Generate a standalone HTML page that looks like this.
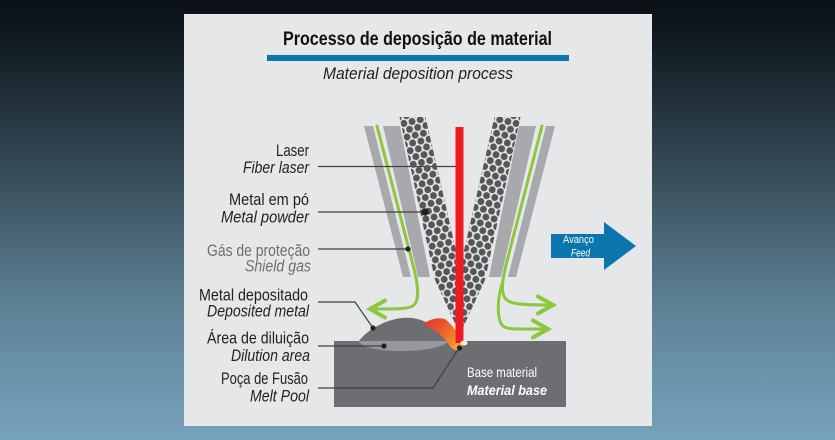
<!DOCTYPE html>
<html><head><meta charset="utf-8"><style>
html,body{margin:0;padding:0;width:835px;height:440px;overflow:hidden}
body{background:linear-gradient(to bottom,#0a1116 0%,#0e171d 7%,#24343e 25%,#3f5664 45%,#587a8c 65%,#6890a7 82%,#77a2bb 100%)}
svg{display:block}
</style></head><body>
<svg width="835" height="440" viewBox="0 0 835 440" xmlns="http://www.w3.org/2000/svg" font-family="'Liberation Sans', sans-serif">
<defs>
<pattern id="dl" patternUnits="userSpaceOnUse" x="407.5" y="118" width="8.4" height="14" patternTransform="rotate(-13 412 120)">
<circle cx="4.2" cy="3.5" r="3.45" fill="#555658"/>
<circle cx="0" cy="10.5" r="3.45" fill="#555658"/>
<circle cx="8.4" cy="10.5" r="3.45" fill="#555658"/>
</pattern>
<pattern id="dr" patternUnits="userSpaceOnUse" x="504.1" y="118" width="8.4" height="14" patternTransform="rotate(13 508 120)">
<circle cx="4.2" cy="3.5" r="3.45" fill="#555658"/>
<circle cx="0" cy="10.5" r="3.45" fill="#555658"/>
<circle cx="8.4" cy="10.5" r="3.45" fill="#555658"/>
</pattern>
<linearGradient id="fl" gradientUnits="userSpaceOnUse" x1="425" y1="321" x2="461" y2="349">
<stop offset="0" stop-color="#e23b2e"/>
<stop offset="0.35" stop-color="#ec542e"/>
<stop offset="0.7" stop-color="#f4812b"/>
<stop offset="1" stop-color="#fcb040"/>
</linearGradient>
</defs>

<!-- panel -->
<rect x="184" y="14" width="468" height="412" fill="#e6e7e8"/>

<!-- title -->
<text x="283" y="45" font-size="19" font-weight="bold" fill="#111" textLength="269" lengthAdjust="spacingAndGlyphs">Processo de deposição de material</text>
<rect x="267" y="55" width="302" height="6" fill="#0b77b0"/>
<text x="323" y="79" font-size="17" font-style="italic" fill="#222" textLength="190" lengthAdjust="spacingAndGlyphs">Material deposition process</text>

<!-- base material -->
<rect x="334" y="341" width="232" height="66" fill="#6d6e71"/>
<path d="M358,342 C370,326 394,316 412,318 C428,320 440,330 448,342 Z" fill="#6d6e71"/>
<path d="M358,341 Q366,351 400,351 Q434,351 447,343 L447,341 Z" fill="#97989b"/>

<!-- nozzle strips -->
<polygon points="364,126 373,126 411,277 403,277" fill="#a7a9ac"/>
<polygon points="383,126 400,126 430,277 418,277" fill="#a7a9ac"/>
<polygon points="555,126 546,126 508,277 516,277" fill="#a7a9ac"/>
<polygon points="536,126 519,126 489,277 501,277" fill="#a7a9ac"/>

<!-- green shield gas -->
<g fill="none" stroke="#8dc63f" stroke-width="3" stroke-linecap="round" stroke-linejoin="miter">
<path d="M377,126 L413,265 C418,284 420,299 414,305 C410,309 400,309 373,309"/>
<polyline points="385,300.5 370,309 385,317.5" stroke-width="4"/>
<path d="M542,126 L506,265 C502,282 501,292 505,298 C509,304 520,305 550,305"/>
<polyline points="538,296.5 553,305 538,313.5" stroke-width="4"/>
<path d="M502,284 C497,300 497,318 502,325 C506,330 515,329 545,329"/>
<polyline points="533,320.5 548,329 533,337.5" stroke-width="4"/>
</g>

<!-- leader lines -->
<g fill="none" stroke="#414042" stroke-width="1.2">
<line x1="318" y1="166.5" x2="456" y2="166.5"/>
<line x1="318" y1="212" x2="425" y2="212"/>
<line x1="318" y1="249" x2="408" y2="249"/>
<polyline points="318,302 355,302 373,328"/>
<line x1="318" y1="346" x2="384" y2="346"/>
<polyline points="318,388 433,388 459,348"/>
</g>

<!-- powder -->
<polygon points="399.5,117 425.5,117 460,268 460,334 435,280" fill="url(#dl)"/>
<polygon points="494.5,117 520.5,117 485,280 460,334 460,268" fill="url(#dr)"/>

<!-- flame / melt pool -->
<path d="M423,324 C430,319 438,317 445,319 C452,324 458,334 463,341 L462,348 C458,352 452,350 449,345 C444,336 434,329 423,324 Z" fill="url(#fl)"/>

<!-- laser -->
<rect x="455.5" y="127" width="8" height="216" fill="#ed1c24"/>
<ellipse cx="464" cy="343" rx="3.5" ry="2.5" fill="#f4efcf"/>

<!-- leader dots -->
<g fill="#231f20">
<circle cx="425" cy="212" r="3.6"/>
<circle cx="408" cy="249" r="2.6"/>
<circle cx="373" cy="328" r="2.6"/>
<circle cx="384" cy="346" r="2.6"/>
<circle cx="459.5" cy="348" r="2.6"/>
</g>

<!-- labels -->
<g font-size="17" fill="#231f20">
<text x="276" y="156" textLength="33" lengthAdjust="spacingAndGlyphs">Laser</text>
<text x="243" y="173" font-style="italic" textLength="66" lengthAdjust="spacingAndGlyphs">Fiber laser</text>
<text x="229" y="205" textLength="80" lengthAdjust="spacingAndGlyphs">Metal em pó</text>
<text x="221" y="222.5" font-style="italic" textLength="88" lengthAdjust="spacingAndGlyphs">Metal powder</text>
<text x="207" y="256" fill="#6d6e71" textLength="103" lengthAdjust="spacingAndGlyphs">Gás de proteção</text>
<text x="245" y="271.5" fill="#6d6e71" font-style="italic" textLength="66" lengthAdjust="spacingAndGlyphs">Shield gas</text>
<text x="199" y="300.5" textLength="109" lengthAdjust="spacingAndGlyphs">Metal depositado</text>
<text x="207" y="316.5" font-style="italic" textLength="102" lengthAdjust="spacingAndGlyphs">Deposited metal</text>
<text x="207" y="343.5" textLength="102" lengthAdjust="spacingAndGlyphs">Área de diluição</text>
<text x="231" y="361" font-style="italic" textLength="79" lengthAdjust="spacingAndGlyphs">Dilution area</text>
<text x="221" y="384" textLength="87" lengthAdjust="spacingAndGlyphs">Poça de Fusão</text>
<text x="250" y="401.5" font-style="italic" textLength="59" lengthAdjust="spacingAndGlyphs">Melt Pool</text>
</g>

<!-- base text -->
<text x="467" y="377" font-size="14" fill="#ffffff" textLength="70" lengthAdjust="spacingAndGlyphs">Base material</text>
<text x="467" y="395" font-size="14" font-weight="bold" font-style="italic" fill="#ffffff" textLength="80" lengthAdjust="spacingAndGlyphs">Material base</text>

<!-- feed arrow -->
<polygon points="551,234 604,234 604,222 636,246 604,270 604,258 551,258" fill="#0b76ad"/>
<text x="563" y="243" font-size="11" fill="#ffffff" textLength="31" lengthAdjust="spacingAndGlyphs">Avanço</text>
<text x="571" y="256.5" font-size="11" font-style="italic" fill="#ffffff" textLength="19" lengthAdjust="spacingAndGlyphs">Feed</text>
</svg>
</body></html>
